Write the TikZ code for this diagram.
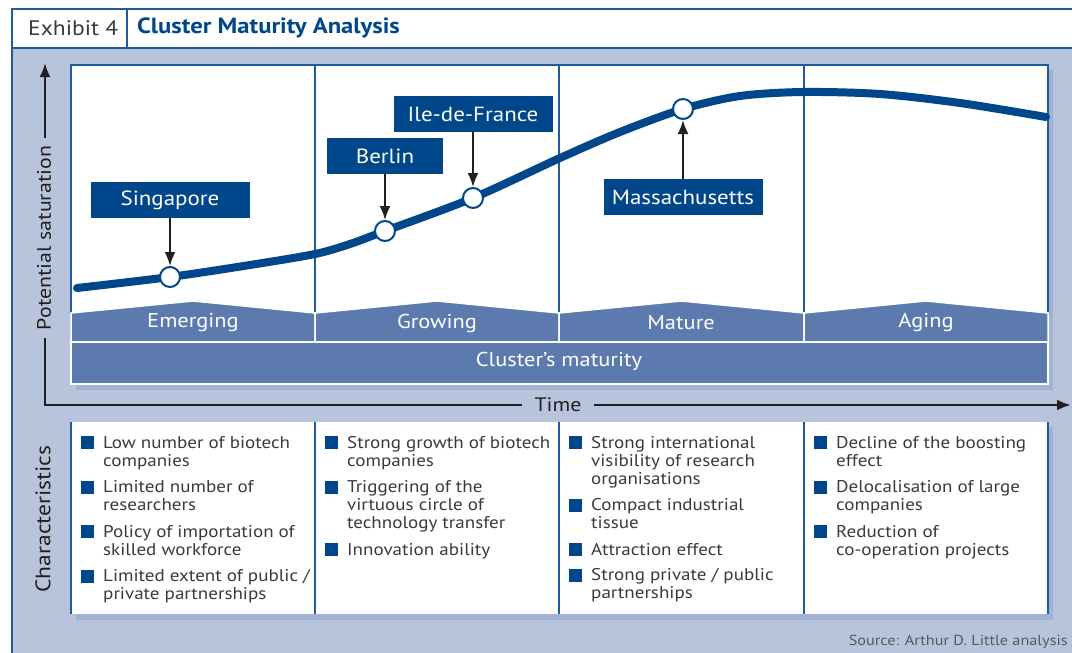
\documentclass[tikz,border=0pt]{standalone}
\usepackage{fontspec}
\setmainfont{PT Sans}[FakeStretch=1.12]
\usetikzlibrary{arrows.meta}
\definecolor{bgblue}{HTML}{B8C4DC}
\definecolor{shadowblue}{HTML}{A2B2D2}
\definecolor{darkblue}{HTML}{00468A}
\definecolor{lineblue}{HTML}{1E5C9C}
\definecolor{stageblue}{HTML}{5C7AAE}
\definecolor{txtgrey}{HTML}{3A3A3A}
\definecolor{srcgrey}{HTML}{5A5A5A}
\definecolor{axisblack}{HTML}{231F20}
\newcommand{\bitem}[1]{\noindent\makebox[22pt][l]{\textcolor{darkblue}{\rule[-1pt]{13pt}{13pt}}}\begin{tabular}[t]{@{}l@{}}#1\end{tabular}\par\vspace{7.5pt}}
\newcommand{\colfont}{\fontsize{17}{18}\selectfont}
\begin{document}
\begin{tikzpicture}[x=1pt,y=-1pt,
  lbl/.style={fill=darkblue, text=white, inner sep=0pt, minimum height=36pt, font=\fontsize{20.5}{22}\selectfont},
  mk/.style={circle, draw=darkblue, fill=white, line width=2pt, minimum size=20pt, inner sep=0pt},
  arr/.style={-{Latex[length=14pt,width=11pt]}, line width=2pt, draw=axisblack},
  axis/.style={{Latex[length=14pt,width=11pt]}-{Latex[length=14pt,width=11pt]}, line width=2.5pt, draw=axisblack},
  stage/.style={fill=stageblue, draw=white, line width=1.5pt},
  stagetxt/.style={text=white, inner sep=0pt, font=\fontsize{20}{22}\selectfont},
  frame/.style={draw=lineblue, line width=1.3pt},
  axlab/.style={text=axisblack, font=\fontsize{19.5}{22}\selectfont},
  coltxt/.style={anchor=base west, inner sep=0pt, text=txtgrey, font=\colfont},
]
\useasboundingbox (0,0) rectangle (1072,653);
\fill[white] (0,0) rectangle (1072,653);
% header and background
\fill[bgblue] (12,48) rectangle (1072,653);
\draw[frame] (1072,9) -- (12,9) -- (12,653);
\draw[frame] (12,48) -- (1072,48);
\draw[frame] (127,9) -- (127,48);
\node[anchor=west, inner sep=0pt, text=txtgrey, font=\fontsize{21}{24}\selectfont] (exh) at (28,28) {Exhibit 4};
\node[anchor=west, inner sep=0pt, text=darkblue, font=\fontsize{22}{24}\selectfont\bfseries] (ttl) at (137,28) {Cluster Maturity Analysis};
% top panel
\fill[shadowblue] (76,70) rectangle (1053,390);
\fill[white] (71,65) rectangle (1048,384);
\draw[frame] (71,313) -- (71,65) -- (1048,65) -- (1048,313);
\foreach \x in {315,559,804} \draw[frame] (\x,65) -- (\x,313);
% curve
\draw[darkblue, line width=8pt, line cap=round] plot[smooth, tension=0.5] coordinates {(77,288) (170,277) (250,265) (315,254) (350,244) (385,231) (473,198) (560,158) (620,132) (683,109) (740,96) (803,92) (880,94) (960,103) (1046,117)};
% markers
\node[mk] (mS) at (170,277) {};
\node[mk] (mB) at (385,231) {};
\node[mk] (mI) at (473,198) {};
\node[mk] (mM) at (683,109) {};
% labels
\node[lbl, minimum width=159pt] (sing) at (170,200) {Singapore};
\node[lbl, minimum width=116pt] (berl) at (385,156) {Berlin};
\node[lbl, minimum width=159pt] (ile) at (473,114) {Ile-de-France};
\node[lbl, minimum width=159pt] (mass) at (683,197) {Massachusetts};
\draw[arr] (sing) -- (mS);
\draw[arr] (berl) -- (mB);
\draw[arr] (ile) -- (mI);
\draw[arr] (mass) -- (mM);
% stage bands
\foreach \a/\b in {71/315,315/559,559/804,804/1048}
  \filldraw[stage] (\a,313) -- ({(\a+\b)/2},301) -- (\b,313) -- (\b,342) -- (\a,342) -- cycle;
\filldraw[stage] (71,342) rectangle (1048,384);
\node[stagetxt] (em) at (193,323) {Emerging};
\node[stagetxt] (gr) at (437,323) {Growing};
\node[stagetxt] (ma) at (681,323) {Mature};
\node[stagetxt] (ag) at (926,323) {Aging};
\node[stagetxt] (cm) at (559,361) {Cluster’s maturity};
% axes
\coordinate (ytip) at (45,63);
\coordinate (corner) at (45,405);
\coordinate (xtip) at (1071,405);
\draw[axis] (ytip) -- (corner) -- (xtip);
\node[axlab, fill=bgblue, rotate=90, inner xsep=8pt, inner ysep=2pt] (ylab) at (44,238) {Potential saturation};
\node[axlab, fill=bgblue, inner xsep=13pt, inner ysep=2pt] (tlab) at (558,405) {Time};
\node[axlab, rotate=90, inner sep=0pt, font=\fontsize{21}{22}\selectfont] (chr) at (43,519) {Characteristics};
% bottom panel
\fill[shadowblue] (76,427) rectangle (1053,620);
\fill[white] (71,422) rectangle (1048,614);
\foreach \x in {71,315,559,804,1048} \draw[frame] (\x,422) -- (\x,614);
\node[coltxt] (c1) at (81,448) {\begin{minipage}[t]{230pt}
\bitem{Low number of biotech\\companies}
\bitem{Limited number of\\researchers}
\bitem{Policy of importation of\\skilled workforce}
\bitem{Limited extent of public /\\private partnerships}
\end{minipage}};
\node[coltxt] (c2) at (325,448) {\begin{minipage}[t]{230pt}
\bitem{Strong growth of biotech\\companies}
\bitem{Triggering of the\\virtuous circle of\\technology transfer}
\bitem{Innovation ability}
\end{minipage}};
\node[coltxt] (c3) at (569,448) {\begin{minipage}[t]{230pt}
\bitem{Strong international\\visibility of research\\organisations}
\bitem{Compact industrial\\tissue}
\bitem{Attraction effect}
\bitem{Strong private / public\\partnerships}
\end{minipage}};
\node[coltxt] (c4) at (814,448) {\begin{minipage}[t]{230pt}
\bitem{Decline of the boosting\\effect}
\bitem{Delocalisation of large\\companies}
\bitem{Reduction of\\co-operation projects}
\end{minipage}};
\node[anchor=east, inner sep=0pt, text=srcgrey, font=\fontsize{14.5}{16}\selectfont] (src) at (1068,642) {Source: Arthur D. Little analysis};
\end{tikzpicture}
\end{document}
